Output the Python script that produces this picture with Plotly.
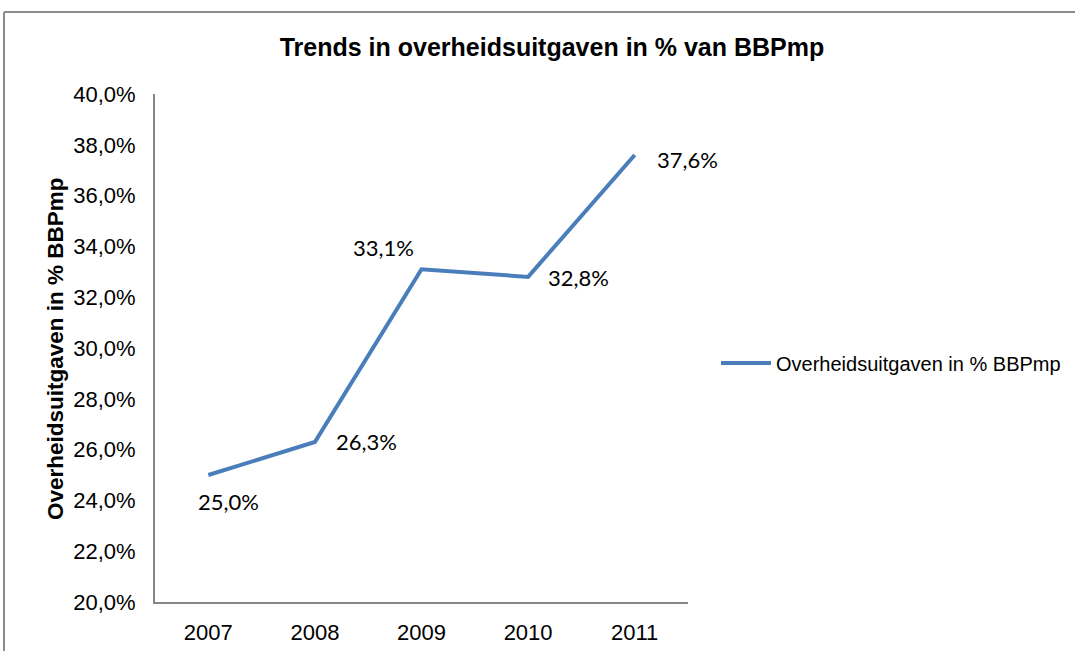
import plotly.graph_objects as go

years = ["2007", "2008", "2009", "2010", "2011"]
values = [25.0, 26.3, 33.1, 32.8, 37.6]
value_labels = ["25,0%", "26,3%", "33,1%", "32,8%", "37,6%"]
label_xshift = [20, 52, -38, 50, 53]
label_yshift = [-26, 0, 22, -1, -5]
series_name = "Overheidsuitgaven in % BBPmp"
chart_title = "Trends in overheidsuitgaven in % van BBPmp"
y_title = "Overheidsuitgaven in % BBPmp"

W, H = 1075, 651
L, R, T, B = 155, 1075 - 688, 94, 651 - 602
pw, ph = W - L - R, H - T - B

def px_x(p):
    return (p - L) / pw

def px_y(p):
    return (H - B - p) / ph

fig = go.Figure()
fig.add_trace(go.Scatter(
    x=years, y=values, mode="lines", name=series_name,
    line=dict(color="#4a7ebb", width=4), showlegend=True,
))

for i, (y, t, dx, dy) in enumerate(zip(values, value_labels, label_xshift, label_yshift)):
    fig.add_annotation(x=i, y=y, text=t, showarrow=False, xshift=dx, yshift=dy,
                       font=dict(family="Lato", size=22, color="#000000"))

fig.add_annotation(xref="paper", yref="paper", x=px_x(55), y=px_y(349), text="<b>" + y_title + "</b>",
                   textangle=-90, showarrow=False, xanchor="center", yanchor="middle",
                   font=dict(family="Liberation Sans", size=22.5, color="#000000"))

# outer frame (top and left edges visible)
fig.add_shape(type="line", xref="paper", yref="paper",
              x0=px_x(4), x1=px_x(1075), y0=px_y(12), y1=px_y(12),
              line=dict(color="#8c8c8c", width=2))
fig.add_shape(type="line", xref="paper", yref="paper",
              x0=px_x(4), x1=px_x(4), y0=px_y(12), y1=px_y(651),
              line=dict(color="#8c8c8c", width=2))

fig.update_layout(
    width=W, height=H,
    margin=dict(l=L, r=R, t=T, b=B, autoexpand=False),
    paper_bgcolor="white", plot_bgcolor="white",
    separators=",.",
    title=dict(text="<b>" + chart_title + "</b>", x=552 / W, y=1 - 47 / H,
               xanchor="center", yanchor="middle", xref="container", yref="container",
               font=dict(family="Liberation Sans", size=25, color="#000000")),
    showlegend=True,
    legend=dict(x=px_x(716), y=px_y(363), xanchor="left", yanchor="middle",
                font=dict(family="Liberation Sans", size=20, color="#000000"),
                bgcolor="rgba(0,0,0,0)", itemwidth=50),
    xaxis=dict(type="category", range=[-0.5, 4.5], showgrid=False, zeroline=False,
               showline=True, linecolor="#868686", linewidth=2, ticks="",
               ticklabelstandoff=10,
               tickfont=dict(family="Liberation Sans", size=22, color="#000000")),
    yaxis=dict(range=[20, 40], dtick=2, tick0=20, showgrid=False, zeroline=False,
               showline=True, linecolor="#868686", linewidth=2, ticks="",
               tickformat=".1f", ticksuffix="%", ticklabelstandoff=13,
               tickfont=dict(family="Liberation Sans", size=22, color="#000000")),
)

fig.write_html("out.html", config={"displayModeBar": False},
               post_script="document.body.style.margin='0';")
